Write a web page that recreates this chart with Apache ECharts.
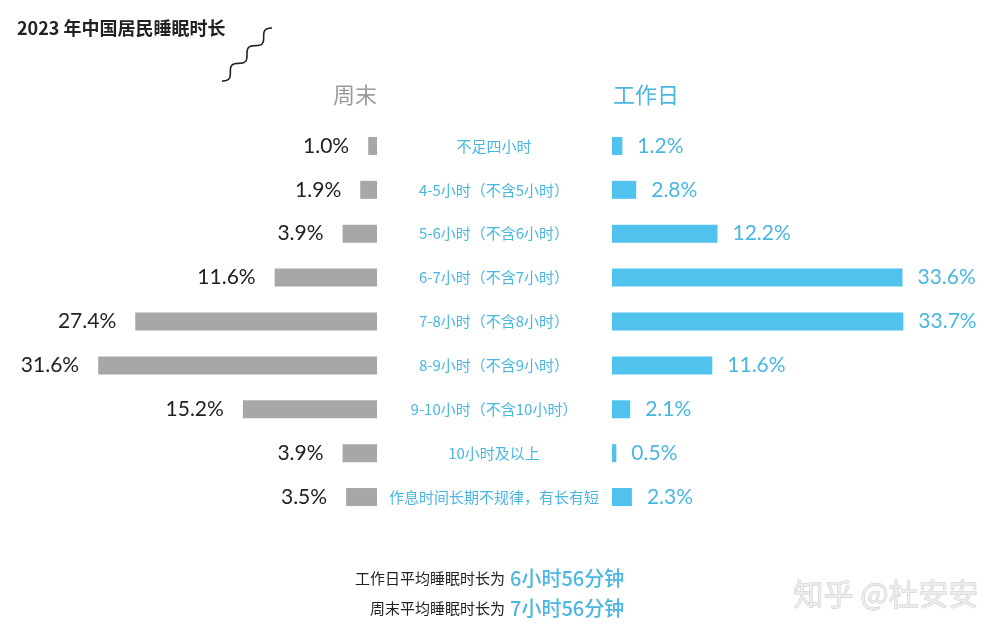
<!DOCTYPE html>
<html><head><meta charset="utf-8">
<script src="https://cdn.jsdelivr.net/npm/echarts@6/dist/echarts.min.js"></script>
<style>html,body{margin:0;padding:0;background:#fff}#c{width:1005px;height:633px}</style>
</head><body><div id="c"></div>
<script>
const categories = ['不足四小时','4-5小时（不含5小时）','5-6小时（不含6小时）','6-7小时（不含7小时）','7-8小时（不含8小时）','8-9小时（不含9小时）','9-10小时（不含10小时）','10小时及以上','作息时间长期不规律，有长有短'];
const weekend = [1.0, 1.9, 3.9, 11.6, 27.4, 31.6, 15.2, 3.9, 3.5];
const workday = [1.2, 2.8, 12.2, 33.6, 33.7, 11.6, 2.1, 0.5, 2.3];
const title = '2023 年中国居民睡眠时长';
const leftHeader = '周末';
const rightHeader = '工作日';
const avgLines = [['工作日平均睡眠时长为', '6小时56分钟'], ['周末平均睡眠时长为', '7小时56分钟']];
const watermark = '知乎 @杜安安';

const GRAY = '#a7a7aa', BLUE = '#4fc2ee', BLUE_T = '#4ab7e2';
const FONT = 'Lato, "Noto Sans CJK SC", sans-serif';
const CJK = '"Noto Sans CJK SC", sans-serif';

// squiggle decoration
const sq = [];
(function(){
  const x0 = 222, y0 = 81, x1 = 272, y1 = 28;
  const dx = x1 - x0, dy = y1 - y0, L = Math.hypot(dx, dy);
  const nx = -dy / L, ny = dx / L;
  for (let i = 0; i <= 120; i++) {
    const t = i / 120;
    const w = Math.sin(t * Math.PI * 2 * 3) * 3.6;
    sq.push([x0 + dx * t + nx * w, y0 + dy * t + ny * w]);
  }
})();

const chart = echarts.init(document.getElementById('c'));
const graphics = [
  {type:'text', left:17, top:19, style:{text:title, font:'bold 18px ' + CJK, fill:'#222'}},
  {type:'polyline', shape:{points:sq}, style:{stroke:'#222', lineWidth:1.6, fill:null}},
  {type:'text', x:355, y:95, style:{text:leftHeader, font:'22px ' + CJK, fill:'#9a9a9a', textAlign:'center', textVerticalAlign:'middle'}},
  {type:'text', x:646, y:95, style:{text:rightHeader, font:'22px ' + CJK, fill:BLUE_T, textAlign:'center', textVerticalAlign:'middle'}},
  {type:'text', x:886, y:594, style:{text:watermark, font:'30px ' + CJK, fill:'#ececec', stroke:'#c4c4c4', lineWidth:0.8, textAlign:'center', textVerticalAlign:'middle'}}
];
avgLines.forEach((ln, i) => {
  const y = 578 + i * 30;
  graphics.push({type:'text', x:505, y:y, style:{text:ln[0], font:'15px ' + CJK, fill:'#222', textAlign:'right', textVerticalAlign:'middle'}});
  graphics.push({type:'text', x:510, y:y, style:{text:ln[1], font:'500 20px ' + CJK, fill:BLUE_T, textAlign:'left', textVerticalAlign:'middle'}});
});

chart.setOption({
  animation:false,
  graphic: graphics,
  grid:[
    {left:77, width:300, top:124, height:395},
    {left:612, width:300, top:124, height:395}
  ],
  xAxis:[
    {gridIndex:0, type:'value', min:0, max:34, inverse:true, show:false},
    {gridIndex:1, type:'value', min:0, max:34.7, show:false}
  ],
  yAxis:[
    {gridIndex:0, type:'category', data:categories, inverse:true, position:'right',
     axisLine:{show:false}, axisTick:{show:false},
     axisLabel:{margin:117, align:'center', color:BLUE_T, fontSize:15, fontFamily:CJK}},
    {gridIndex:1, type:'category', data:categories, inverse:true, show:false}
  ],
  series:[
    {type:'bar', xAxisIndex:0, yAxisIndex:0, data:weekend, barWidth:18, itemStyle:{color:GRAY},
     label:{show:true, position:'left', distance:19, color:'#222', fontSize:21, fontFamily:FONT,
            formatter:p => p.value.toFixed(1) + '%'}},
    {type:'bar', xAxisIndex:1, yAxisIndex:1, data:workday, barWidth:18, itemStyle:{color:BLUE},
     label:{show:true, position:'right', distance:15, color:BLUE_T, fontSize:21, fontFamily:FONT,
            formatter:p => p.value.toFixed(1) + '%'}}
  ]
});
</script></body></html>
